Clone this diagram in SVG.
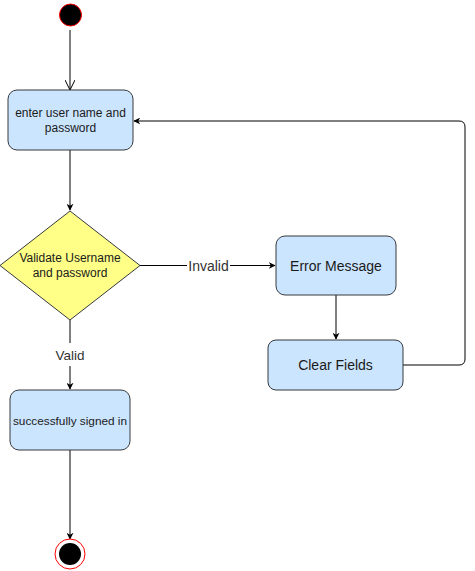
<svg xmlns="http://www.w3.org/2000/svg" width="475" height="571" viewBox="0 0 475 571">
<style>
.box{fill:#cce5ff;stroke:#36393d;stroke-width:1}
.dia{fill:#ffff88;stroke:#36393d;stroke-width:1}
.t{font-family:"Liberation Sans",Arial,sans-serif;font-size:12px;fill:#1a1a1a;text-anchor:middle}
.big{font-size:14px}
.e{fill:none;stroke:#000;stroke-width:1}
.lbl{font-family:"Liberation Sans",Arial,sans-serif;font-size:14px;fill:#333;text-anchor:middle}
</style>
<defs>
<marker id="arr" viewBox="0 0 10 10" refX="9" refY="5" markerWidth="7" markerHeight="7" orient="auto" markerUnits="userSpaceOnUse">
<path d="M0,0 L10,5 L0,10 L3,5 Z" fill="#000"/>
</marker>
<marker id="open" viewBox="0 0 10 10" refX="10" refY="5" markerWidth="10" markerHeight="10" orient="auto" markerUnits="userSpaceOnUse">
<path d="M0,0 L10,5 L0,10" fill="none" stroke="#000" stroke-width="1"/>
</marker>
</defs>
<g id="edges">
<path class="e" d="M70,30 V90" marker-end="url(#open)"/>
<path class="e" d="M70,150 V210" marker-end="url(#arr)"/>
<path class="e" d="M140,265.5 H187 M230,265.5 H275" marker-end="url(#arr)"/>
<path class="e" d="M336,295 V339" marker-end="url(#arr)"/>
<path class="e" d="M403,365 H459 Q465,365 465,359 V127 Q465,121 459,121 H134" marker-end="url(#arr)"/>
<path class="e" d="M70,320 V343 M70,366 V389" marker-end="url(#arr)"/>
<path class="e" d="M70,450 V539" marker-end="url(#arr)"/>
<text class="lbl" x="208.5" y="270.5">Invalid</text>
<text class="lbl" x="70" y="360" style="font-size:13.5px">Valid</text>
</g>
<g id="start">
<circle cx="70.5" cy="15" r="11" fill="#000" stroke="#ff0000" stroke-width="1"/>
</g>
<g id="enter">
<rect class="box" x="8" y="90" width="125" height="60" rx="9"/>
<text class="t" x="70.5" y="117">enter user name and</text>
<text class="t" x="70.5" y="132">password</text>
</g>
<g id="validate">
<polygon class="dia" points="70,211 140,265.5 70,320 0,265.5"/>
<text class="t" x="70" y="262">Validate Username</text>
<text class="t" x="70" y="277">and password</text>
</g>
<g id="error">
<rect class="box" x="276" y="236" width="120" height="59" rx="9"/>
<text class="t big" x="336" y="270.5">Error Message</text>
</g>
<g id="clear">
<rect class="box" x="268" y="340" width="135" height="50" rx="8"/>
<text class="t big" x="335.5" y="370">Clear Fields</text>
</g>
<g id="success">
<rect class="box" x="10" y="390" width="120" height="60" rx="9"/>
<text class="t" x="70" y="424.5" style="font-size:11.8px">successfully signed in</text>
</g>
<g id="end">
<circle cx="70" cy="554" r="15" fill="#fff" stroke="#ff0000" stroke-width="1"/>
<circle cx="70" cy="554" r="11" fill="#000"/>
</g>
</svg>
